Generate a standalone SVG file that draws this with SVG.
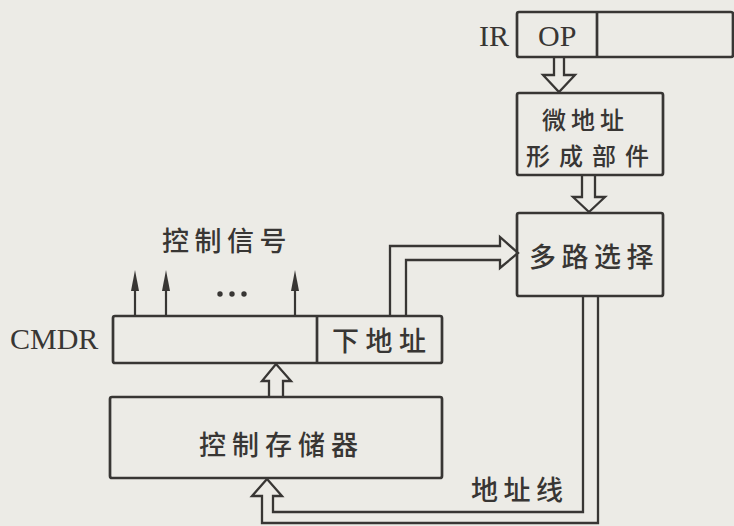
<svg xmlns="http://www.w3.org/2000/svg" width="734" height="526" viewBox="0 0 734 526">
<style>
.box{fill:none;stroke:#383634;stroke-width:2.7}
.ln{fill:none;stroke:#383634;stroke-width:2.2;stroke-linejoin:miter}
.harrow{fill:#ecebe6;stroke:#383634;stroke-width:2.3;stroke-linejoin:miter}
.cn{font-family:"Noto Sans CJK SC","Noto Sans CJK JP",sans-serif;font-size:27px;font-weight:500;fill:#383634}
.sm{font-size:24px}
.lat{font-family:"Liberation Serif","DejaVu Serif",serif;font-size:30px;fill:#383634}
.head{fill:#383634}
</style>
<rect x="0" y="0" width="734" height="526" fill="#ecebe6"/>
<g id="connectors">
<polyline class="harrow" points="554,57 554,75 543,75 559,92 575,75 564,75 564,57"/>
<polyline class="harrow" points="582,175 582,197 573,197 589,212 605,197 595,197 595,175"/>
<polyline class="harrow" points="269,397 269,381 262,381 276,364 291,381 283,381 283,397"/>
<polyline class="harrow" points="598,296 598,523 262,523 262,496 252,496 267,479 282,496 273,496 273,512 583,512 583,296"/>
<polyline class="harrow" points="390,316 390,246 500,246 500,237 518,253 500,268 500,260 406,260 406,316"/>
<line class="ln" x1="135" y1="316" x2="135" y2="284"/>
<polygon class="head" points="135,270 131,291 139,291"/>
<line class="ln" x1="166" y1="316" x2="166" y2="284"/>
<polygon class="head" points="166,270 162,291 170,291"/>
<line class="ln" x1="295" y1="316" x2="295" y2="284"/>
<polygon class="head" points="295,270 291,291 299,291"/>
</g>
<g id="IR">
<rect class="box" x="517" y="12" width="216" height="45" rx="2"/>
<line class="box" x1="597" y1="12" x2="597" y2="57"/>
<text class="lat" x="479" y="46">IR</text>
<text class="lat" x="538" y="46">OP</text>
</g>
<g id="micro-addr">
<rect class="box" x="517" y="93" width="146" height="82" rx="2"/>
<text class="cn sm" x="542" y="129" letter-spacing="5">微地址</text>
<text class="cn sm" x="526" y="165" letter-spacing="9">形成部件</text>
</g>
<g id="mux">
<rect class="box" x="517" y="213" width="146" height="83" rx="2"/>
<text class="cn" x="529" y="267" letter-spacing="5.5">多路选择</text>
</g>
<g id="signals">
<text class="cn" x="162" y="251" letter-spacing="5.5">控制信号</text>
<circle cx="220" cy="294" r="2.7" class="head"/>
<circle cx="232" cy="294" r="2.7" class="head"/>
<circle cx="244" cy="294" r="2.7" class="head"/>
</g>
<g id="CMDR">
<rect class="box" x="113" y="316" width="329" height="47" rx="2"/>
<line class="box" x1="317" y1="316" x2="317" y2="363"/>
<text class="lat" x="10" y="349">CMDR</text>
<text class="cn" x="332" y="351" letter-spacing="6.5">下地址</text>
</g>
<g id="control-store">
<rect class="box" x="110" y="397" width="332" height="81" rx="2"/>
<text class="cn" x="199" y="455" letter-spacing="6">控制存储器</text>
</g>
<g id="addr-line-label">
<text class="cn" x="471" y="500" letter-spacing="5.5">地址线</text>
</g>
</svg>
